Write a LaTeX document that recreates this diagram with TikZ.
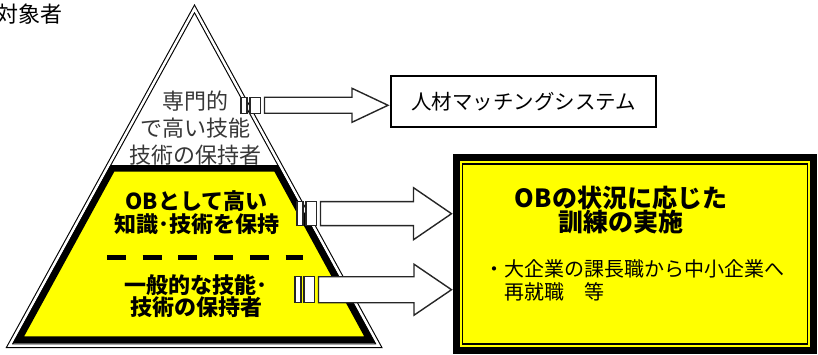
\documentclass[tikz,border=0pt]{standalone}
\usepackage{fontspec}
\setmainfont{Noto Sans CJK JP}

\definecolor{obyellow}{RGB}{255,255,0}
\definecolor{softink}{RGB}{55,55,55}

% striped block arrow: start, tip, body half height, head half height, head length
\newcommand\stripearrow[5]{%
	\draw[arrowline] ([yshift=-#3]#1) rectangle ([xshift=6pt,yshift=#3]#1);
	\draw[arrowline] ([xshift=9pt,yshift=-#3]#1) rectangle ([xshift=19.5pt,yshift=#3]#1);
	\draw[arrowline] ([xshift=23.5pt,yshift=#3]#1) -- ([xshift=-#5,yshift=#3]#2)
		-- ([xshift=-#5,yshift=#4]#2) -- (#2) -- ([xshift=-#5,yshift=-#4]#2)
		-- ([xshift=-#5,yshift=-#3]#2) -- ([xshift=23.5pt,yshift=-#3]#1) -- cycle;}

\tikzset{
	arrowline/.style={draw=black!85,line width=1.4pt,fill=white,line join=miter},
	pyramidline/.style={line width=1.1pt,double,double distance=2.5pt,line join=miter}
}

\begin{document}
\begin{tikzpicture}[x=1pt,y=-1pt]
	\useasboundingbox (0,0) rectangle (818,355);
	
	% pyramid
	\draw[pyramidline] (194.5,8.9) -- (9.5,345.7) -- (378.8,345.7) -- cycle;
	\draw[line width=6.5pt,fill=obyellow,line join=miter] (112.3,168.5) -- (18.7,339.5) -- (369.6,339.5) -- (276.4,168.5) -- cycle;
	\draw[line width=5pt,dash pattern=on 19pt off 16.7pt] (107,257.3) -- (303,257.3);
	
	\node (target) [anchor=east,inner sep=0pt,font=\fontsize{22}{26}\selectfont] at (63,14.5) {対象者};
	
	\begin{scope}[every node/.style={align=center,inner sep=0pt}]
		\node (expert) [text=softink,font=\fontsize{22}{27}\selectfont] at (195.5,128) {専門的\\で高い技能\\技術の保持者};
		\node (obskill) [font=\bfseries\fontsize{22}{22.5}\selectfont] at (196.5,212.8) {OBとして高い\\知識･技術を保持};
		\node (general) [font=\bfseries\fontsize{22}{22.5}\selectfont] at (196,296) {一般的な技能･\\技術の保持者};
	\end{scope}
	
	% boxes on the right
	\node (matching) [draw,line width=2pt,minimum width=265pt,minimum height=51pt,font=\fontsize{20.5}{24}\selectfont] at (523.5,101.5) {人材マッチングシステム};
	\node (ob) [draw,line width=7pt,fill=obyellow,minimum width=357pt,minimum height=193pt] at (635,254) {};
	\node (obframe) [draw,line width=1.8pt,minimum width=345pt,minimum height=180pt] at (ob.center) {};
	\node (obtitle) [align=center,inner sep=0pt,font=\bfseries\fontsize{25}{24}\selectfont] at (621,210.5) {OBの状況に応じた\\訓練の実施};
	\node (obnote) [anchor=west,align=left,inner sep=0pt,font=\fontsize{20}{22.5}\selectfont] at (484,280.3) {・大企業の課長職から中小企業へ\\　再就職　等};
	
	% arrows
	\coordinate (a1s) at (241,105.3);
	\coordinate (a2s) at (297,213.7);
	\coordinate (a3s) at (295,289.7);
	\path (a1s -| matching.west) ++(-2,0) coordinate (a1t);
	\path (a2s -| ob.west) ++(-1.5,0) coordinate (a2t);
	\path (a3s -| ob.west) ++(-1.5,0) coordinate (a3t);
	\stripearrow{a1s}{a1t}{8pt}{17pt}{36pt}
	\stripearrow{a2s}{a2t}{12pt}{26pt}{38pt}
	\stripearrow{a3s}{a3t}{13pt}{25.5pt}{37.5pt}
\end{tikzpicture}
\end{document}
